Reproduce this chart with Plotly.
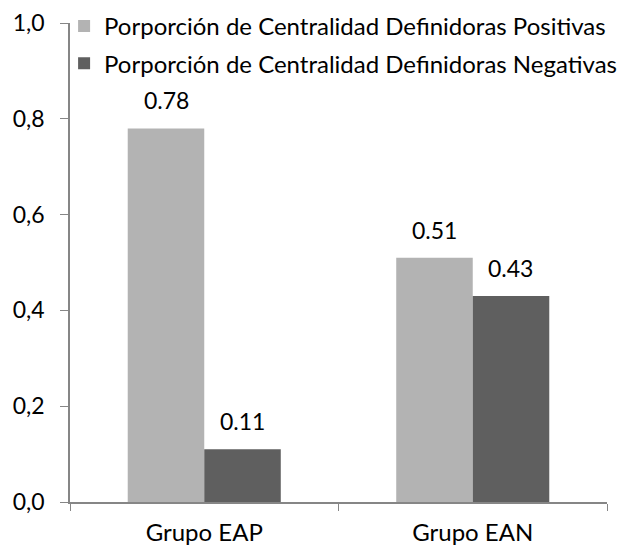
import plotly.graph_objects as go

categories = ["Grupo EAP", "Grupo EAN"]
series_names = ["Porporción de Centralidad Definidoras Positivas",
                "Porporción de Centralidad Definidoras Negativas"]
positivas = [0.78, 0.51]
negativas = [0.11, 0.43]
colors = ["#B3B3B3", "#5F5F5F"]
y_tickvals = [0.0, 0.2, 0.4, 0.6, 0.8, 1.0]
y_ticktext = ["0,0", "0,2", "0,4", "0,6", "0,8", "1,0"]

FONT = "Lato"
fig = go.Figure()
for name, vals, col in zip(series_names, [positivas, negativas], colors):
    fig.add_trace(go.Bar(x=categories, y=vals, name=name, marker_color=col,
                         marker_line_width=0, legendgroup=name))

# data labels
for i, vals in enumerate([positivas, negativas]):
    shift = -38 if i == 0 else 38
    for c, v in zip(categories, vals):
        fig.add_annotation(x=c, y=v, xref="x", yref="y", text=f"{v:.2f}",
                           showarrow=False, xshift=shift, yshift=28,
                           font=dict(family=FONT, size=23, color="#000000"))

fig.update_layout(
    width=631, height=548,
    margin=dict(l=62, r=32, t=15, b=54, autoexpand=False),
    paper_bgcolor="white", plot_bgcolor="white",
    barmode="group", bargap=0.43, bargroupgap=0,
    font=dict(family=FONT, size=24, color="#000000"),
    showlegend=True,
    legend=dict(x=-0.011, y=1.04, xanchor="left", yanchor="top",
                bgcolor="rgba(0,0,0,0)", font=dict(family=FONT, size=24),
                itemwidth=30, tracegroupgap=3),
)
fig.update_xaxes(showline=True, linecolor="#868686", linewidth=1.5,
                 ticks="outside", tickson="boundaries", ticklen=7,
                 tickcolor="#868686", showgrid=False, ticklabelstandoff=8,
                 tickfont=dict(family=FONT, size=24))
fig.update_yaxes(range=[0, 1.0], tickvals=y_tickvals, ticktext=y_ticktext,
                 showline=True, linecolor="#868686", linewidth=1.5,
                 ticks="outside", ticklen=8, tickcolor="#868686",
                 showgrid=False, zeroline=False, ticklabelstandoff=11,
                 ticklabeloverflow="allow",
                 tickfont=dict(family=FONT, size=23))

fig.write_html("out.html")
